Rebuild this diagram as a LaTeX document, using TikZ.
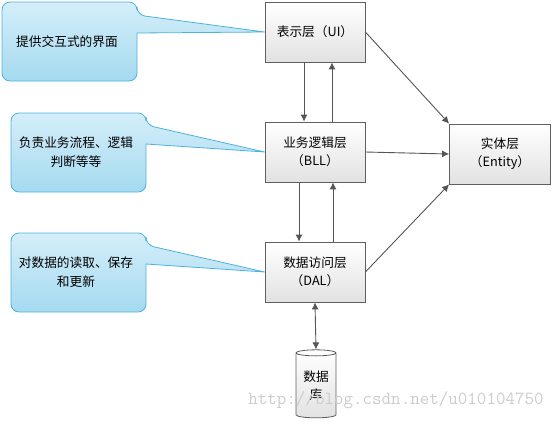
\documentclass[tikz,border=0pt]{standalone}
\usepackage{fontspec}
\setmainfont{Noto Sans CJK SC}
\usepackage{xcolor}
\definecolor{notetop}{HTML}{D4EEF9}
\definecolor{notebottom}{HTML}{A5DAF0}
\definecolor{noteline}{HTML}{4DB2DF}
\definecolor{layerline}{HTML}{5F5F5F}
\definecolor{layerbottom}{HTML}{E2E2E2}
\definecolor{arrowgray}{HTML}{555555}
\usepackage{tikz}
\usetikzlibrary{arrows.meta}
\usetikzlibrary{shapes.geometric}

\begin{document}
\begin{tikzpicture}[x=1pt,y=-1pt,>={Latex[length=7pt,width=7pt]},
  layer/.style={draw=layerline,line width=0.8pt,top color=white,bottom color=layerbottom,
    minimum width=100pt,minimum height=60pt,align=center,font=\fontsize{12.7}{18}\selectfont},
  note/.style={draw=noteline,line width=0.8pt,top color=notetop,bottom color=notebottom},
  notetext/.style={align=center,font=\fontsize{12.7}{18.5}\selectfont},
  link/.style={draw=arrowgray,line width=0.9pt}]
\useasboundingbox (0,0) rectangle (560,421);
% layers
\node[layer] (ui) at (315,32) {表示层（UI）};
\node[layer] (bll) at (315,152) {业务逻辑层\\（BLL）};
\node[layer] (dal) at (315,272) {数据访问层\\（DAL）};
\node[layer,minimum width=101pt] (ent) at (500,154) {实体层\\（Entity）};
\node[layer,cylinder,shape border rotate=90,aspect=0.22,minimum width=40pt,minimum height=68pt,inner sep=1pt] (db) at (316,386) {数据\\库};
% notes
\shade[note] (70,2) [rounded corners=8pt] -- (137,2) -- (137,15) [sharp corners] -- (ui.west) -- (137,33) [rounded corners=8pt] -- (137,81) -- (2,81) -- (2,2) -- cycle;
\shade[note] (78,113) [rounded corners=8pt] -- (146,113) -- (146,125) [sharp corners] -- (bll.west) -- (146,144) [rounded corners=8pt] -- (146,192) -- (11,192) -- (11,113) -- cycle;
\shade[note] (78,233) [rounded corners=8pt] -- (146,233) -- (146,245) [sharp corners] -- (dal.west) -- (146,264) [rounded corners=8pt] -- (146,312) -- (11,312) -- (11,233) -- cycle;
\node[notetext] (note1) at (67,42) {提供交互式的界面};
\node[notetext] (note2) at (76,152) {负责业务流程、逻辑\\判断等等};
\node[notetext] (note3) at (76,272) {对数据的读取、保存\\和更新};
% arrows
\draw[link,->] ([xshift=-11pt]ui.south) -- ([xshift=-11pt]bll.north);
\draw[link,->] ([xshift=17pt]bll.north) -- ([xshift=17pt]ui.south);
\draw[link,->] ([xshift=-16pt]bll.south) -- ([xshift=-16pt]dal.north);
\draw[link,->] ([xshift=18pt]dal.north) -- ([xshift=18pt]bll.south);
\draw[link,->] (ui.east) -- (ent.north west);
\draw[link,->] (bll.east) -- (ent.west);
\draw[link,->] (dal.east) -- (ent.south west);
\draw[link,<->] (dal.south) -- (db.north);
\node[text=gray!40,font=\fontsize{18.5}{20}\ttfamily] (mark) at (396,400) {http://blog.csdn.net/u010104750};
\end{tikzpicture}
\end{document}
